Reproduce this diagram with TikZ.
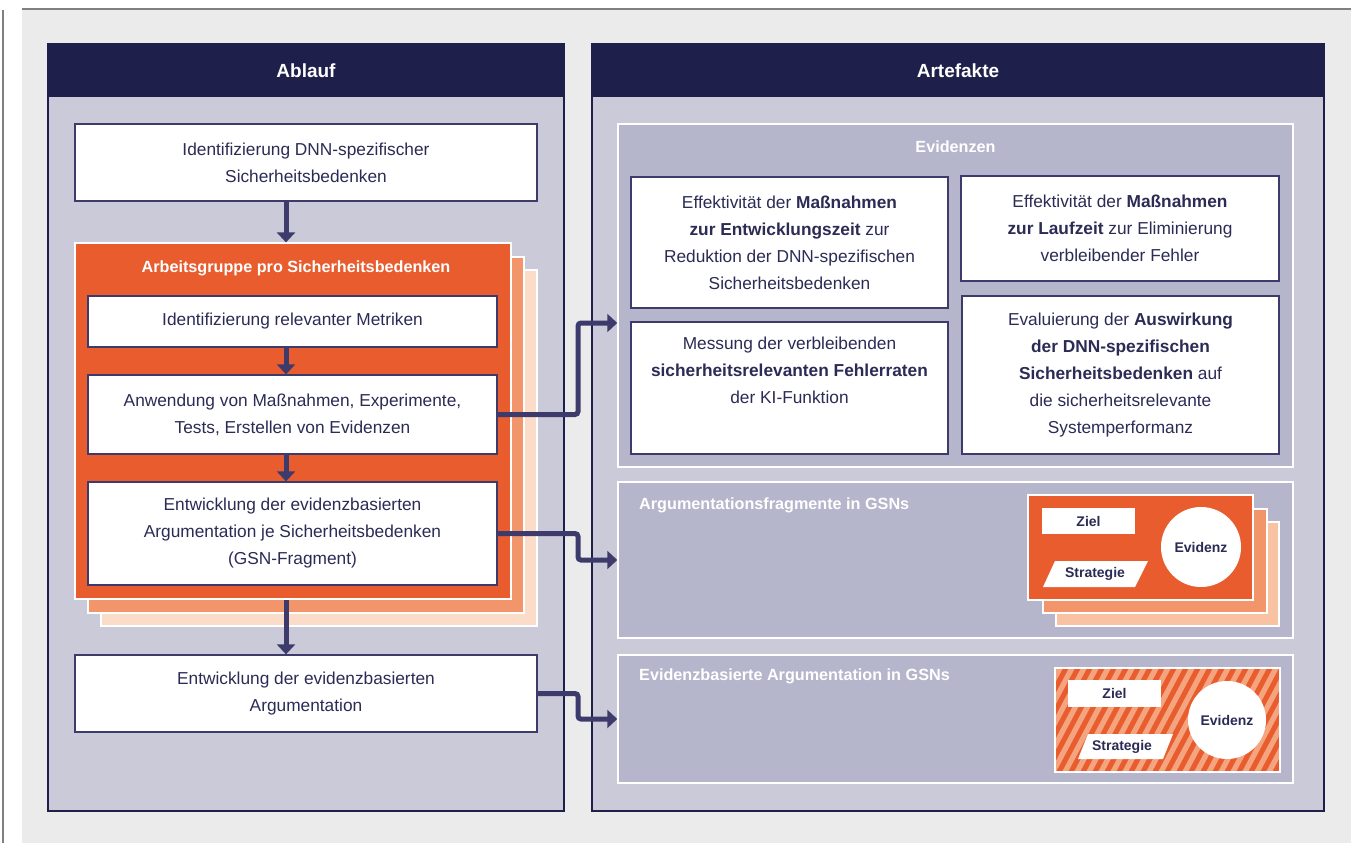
\documentclass[tikz,border=0pt]{standalone}
\usepackage{fontspec}
\setmainfont{Liberation Sans}
\usetikzlibrary{arrows.meta}
\definecolor{bggray}{HTML}{EBEBEB}
\definecolor{frame}{HTML}{808080}
\definecolor{navy}{HTML}{1F1F4B}
\definecolor{lineblue}{HTML}{3C3B6B}
\definecolor{txt}{HTML}{2B2B55}
\definecolor{lav}{HTML}{CACAD9}
\definecolor{lavdark}{HTML}{B5B5CB}
\definecolor{orA}{HTML}{E95C2E}
\definecolor{orB}{HTML}{F2956A}
\definecolor{orC}{HTML}{FBDCC8}
\definecolor{orD}{HTML}{F8C2A3}
\definecolor{stripecol}{HTML}{F4A47E}
\begin{document}
\begin{tikzpicture}[x=1pt,y=-1pt,
  panel/.style={draw=navy, line width=2pt, fill=lav, inner sep=0pt},
  htitle/.style={text=white, font=\bfseries\fontsize{19}{22}\selectfont},
  wbox/.style={draw=lineblue, line width=1.3pt, fill=white, inner sep=0pt, align=center, text=txt, font=\fontsize{17.3}{27}\selectfont},
  sub/.style={draw=white, line width=1.5pt, fill=lavdark, inner sep=0pt},
  subtitle/.style={text=white, font=\bfseries\fontsize{16.2}{20}\selectfont, inner sep=0pt},
  stack/.style={draw=white, line width=1.2pt, fill=#1, inner sep=0pt},
  arr/.style={draw=lineblue, line width=5pt, -{Triangle[width=18pt,length=10pt]}, rounded corners=3pt},
  gsn/.style={fill=white, text=txt, font=\bfseries\fontsize{14}{16}\selectfont, inner sep=0pt},
]
\useasboundingbox (0,0) rectangle (1351,843);
\fill[white] (0,0) rectangle (1351,843);
\fill[bggray] (22,10) rectangle (1351,843);
\draw[frame, line width=1.5pt] (22,9) -- (1351,9);
\draw[frame, line width=1.5pt] (3,10) -- (3,843);

% ---------- Ablauf ----------
\node[panel, minimum width=516, minimum height=767] (ablauf) at (306,427.5) {};
\fill[navy] (48,44) rectangle (564,97);
\node[htitle] (ablaufT) at (306,71) {Ablauf};

\node[wbox, minimum width=462, minimum height=77] (b1) at (306,162.5)
  {Identifizierung DNN-spezifischer\\Sicherheitsbedenken};

\node[stack=orC, minimum width=436, minimum height=356] (sC) at (319,448) {};
\node[stack=orB, minimum width=436, minimum height=356] (sB) at (306,435) {};
\node[stack=orA, minimum width=436, minimum height=356] (sA) at (293,421) {};
\node[subtitle] (sAT) at (296,268) {Arbeitsgruppe pro Sicherheitsbedenken};

\node[wbox, minimum width=409, minimum height=51] (b2) at (292.5,321.5)
  {Identifizierung relevanter Metriken};
\node[wbox, minimum width=409, minimum height=79] (b3) at (292.5,414.5)
  {Anwendung von Maßnahmen, Experimente,\\Tests, Erstellen von Evidenzen};
\node[wbox, minimum width=409, minimum height=103] (b4) at (292.5,533.5)
  {Entwicklung der evidenzbasierten\\Argumentation je Sicherheitsbedenken\\(GSN-Fragment)};
\node[wbox, minimum width=462, minimum height=77] (b5) at (306,693.5)
  {Entwicklung der evidenzbasierten\\Argumentation};

\coordinate (ax) at (286,0);
\draw[arr] (b1.south -| ax) -- (sA.north -| ax);
\draw[arr] (b2.south -| ax) -- (b3.north -| ax);
\draw[arr] (b3.south -| ax) -- (b4.north -| ax);
\draw[arr] (sA.south -| ax) -- (b5.north -| ax);

% ---------- Artefakte ----------
\node[panel, minimum width=732, minimum height=767] (artef) at (958,427.5) {};
\fill[navy] (592,44) rectangle (1324,97);
\node[htitle] (artefT) at (958,71) {Artefakte};

\node[sub, minimum width=675, minimum height=343] (evid) at (955.5,295.5) {};
\node[subtitle] (evidT) at (955.5,147) {Evidenzen};

\node[wbox, minimum width=317, minimum height=131] (e1) at (789.5,242.5)
  {Effektivität der \textbf{Maßnahmen}\\\textbf{zur Entwicklungszeit} zur\\Reduktion der DNN-spezifischen\\Sicherheitsbedenken};
\node[wbox, minimum width=318, minimum height=105] (e2) at (1120,228.5)
  {Effektivität der \textbf{Maßnahmen}\\\textbf{zur Laufzeit} zur Eliminierung\\verbleibender Fehler};
\node[wbox, minimum width=317, minimum height=132] (e3) at (789.5,388)
  {Messung der verbleibenden\\\textbf{sicherheitsrelevanten Fehlerraten}\\der KI-Funktion\\\strut};
\node[wbox, minimum width=317, minimum height=158] (e4) at (1120.5,375)
  {Evaluierung der \textbf{Auswirkung}\\\textbf{der DNN-spezifischen}\\\textbf{Sicherheitsbedenken} auf\\die sicherheitsrelevante\\Systemperformanz};

\node[sub, minimum width=675, minimum height=156] (argf) at (955.5,560) {};
\node[subtitle, anchor=west] (argfT) at (639,505) {Argumentationsfragmente in GSNs};

\node[stack=orD, minimum width=223, minimum height=104] (gC) at (1167.5,574) {};
\node[stack=orB, minimum width=224, minimum height=104] (gB) at (1155,561) {};
\node[stack=orA, minimum width=225, minimum height=105] (gA) at (1140.5,547.5) {};
\node[gsn, minimum width=93, minimum height=26] (z1) at (1088.5,521) {Ziel};
\fill[white] (1043,587) -- (1055,561) -- (1148,561) -- (1135,587) -- cycle;
\node[text=txt, font=\bfseries\fontsize{14}{16}\selectfont, inner sep=0pt] (s1) at (1095,574) {Strategie};
\node[gsn, circle, minimum size=80] (ev1) at (1201,547) {Evidenz};

\node[sub, minimum width=675, minimum height=128] (evarg) at (955.5,719) {};
\node[subtitle, anchor=west] (evargT) at (639,676) {Evidenzbasierte Argumentation in GSNs};

\begin{scope}
  \clip (1055,668) rectangle (1280,772);
  \fill[orA] (1055,668) rectangle (1280,772);
  \foreach \i in {0,...,24} {
    \fill[stripecol] ({990+\i*12},772) -- ++(6,0) -- ++(55,-104) -- ++(-6,0) -- cycle;
  }
\end{scope}
\node[draw=white, line width=1.5pt, minimum width=225, minimum height=104, inner sep=0pt] (strip) at (1167.5,720) {};
\node[gsn, minimum width=93, minimum height=27] (z2) at (1114.5,693.5) {Ziel};
\fill[white] (1078,759) -- (1088,734) -- (1173,734) -- (1163,759) -- cycle;
\node[text=txt, font=\bfseries\fontsize{14}{16}\selectfont, inner sep=0pt] (s2) at (1122,746.5) {Strategie};
\node[gsn, circle, minimum size=78] (ev2) at (1227,720) {Evidenz};

% ---------- connectors ----------
\coordinate (jx) at (578,0);
\coordinate (t1) at (0,323);
\draw[arr] (b3.east) -- (b3.east -| jx) -- (jx |- t1) -- (evid.west |- t1);
\draw[arr] (b4.east) -- (b4.east -| jx) -- (jx |- argf.west) -- (argf.west);
\draw[arr] (b5.east) -- (b5.east -| jx) -- (jx |- evarg.west) -- (evarg.west);
\end{tikzpicture}
\end{document}
